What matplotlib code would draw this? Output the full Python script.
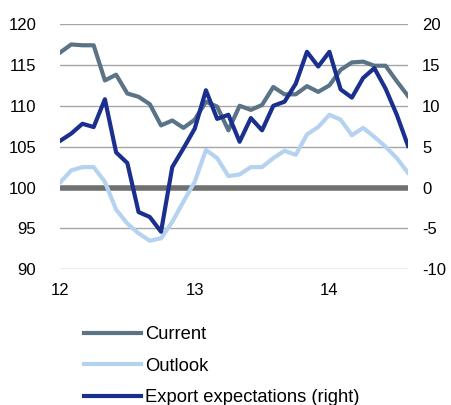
import numpy as np
import matplotlib
matplotlib.use("Agg")
import matplotlib.pyplot as plt

plt.rcParams["font.family"] = ["Liberation Sans", "DejaVu Sans"]
plt.rcParams["axes.unicode_minus"] = False

# Monthly observations, Jan 2012 .. Aug 2014 (x in years since 2000)
months = np.arange(32)
current = [116.5, 117.5, 117.4, 117.4, 113.1, 113.8, 111.5, 111.1, 110.2, 107.6,
           108.2, 107.3, 108.3, 110.5, 109.9, 107.0, 110.0, 109.5, 110.1, 112.3,
           111.4, 111.4, 112.4, 111.7, 112.5, 114.4, 115.3, 115.4, 114.9, 114.9,
           113.0, 111.2]
outlook = [100.6, 102.1, 102.5, 102.5, 100.7, 97.3, 95.6, 94.4, 93.5, 93.8,
           95.8, 98.3, 100.7, 104.6, 103.6, 101.4, 101.6, 102.5, 102.5, 103.6,
           104.5, 104.0, 106.5, 107.4, 108.9, 108.3, 106.4, 107.3, 106.2, 105.0,
           103.6, 101.8]
export_exp = [5.7, 6.6, 7.8, 7.4, 10.8, 4.3, 3.0, -3.0, -3.6, -5.4,
              2.5, 4.8, 7.2, 11.9, 8.4, 8.9, 5.6, 8.5, 7.0, 10.0,
              10.5, 12.7, 16.6, 14.8, 16.6, 12.0, 11.0, 13.4, 14.6, 12.1,
              8.9, 5.1]
x_ticks = [12, 13, 14]
left_ticks = [90, 95, 100, 105, 110, 115, 120]
right_ticks = [-10, -5, 0, 5, 10, 15, 20]

x = 12 + months / 12.0

fig = plt.figure(figsize=(4.52, 4.05), dpi=100)
ax = fig.add_axes([0.1327, 0.335, 0.77, 0.6057])
ax2 = ax.twinx()

for val in left_ticks:
    if val != 100:
        ax.axhline(val, color="#a6a6a6", linewidth=1.0, zorder=1)
ax.axhline(100, color="#707070", linewidth=4.0, zorder=2)

l1, = ax.plot(x, current, color="#5b7387", linewidth=3.0, zorder=3, label="Current")
l2, = ax.plot(x, outlook, color="#b5d3f0", linewidth=3.0, zorder=3, label="Outlook")
l3, = ax2.plot(x, export_exp, color="#1a2f8e", linewidth=3.0, zorder=4,
               label="Export expectations (right)")

ax.set_xlim(12, 12 + 31 / 12.0)
ax.set_ylim(90, 120)
ax2.set_ylim(-10, 20)
ax.set_xticks(x_ticks)
ax.set_xticklabels([str(t) for t in x_ticks])
ax.set_yticks(left_ticks)
ax2.set_yticks(right_ticks)

for a in (ax, ax2):
    for s in a.spines.values():
        s.set_visible(False)
    a.tick_params(length=0, labelsize=12, colors="#000000")
ax.tick_params(axis="y", pad=17)
ax2.tick_params(axis="y", pad=10)
ax.tick_params(axis="x", pad=10)

fig.legend(handles=[l1, l2, l3], loc="upper left", bbox_to_anchor=(0.17, 0.213),
           frameon=False, fontsize=13.2, handlelength=3.1, handletextpad=0.2,
           labelspacing=0.8, borderaxespad=0)

fig.savefig("out.png", dpi=100)
